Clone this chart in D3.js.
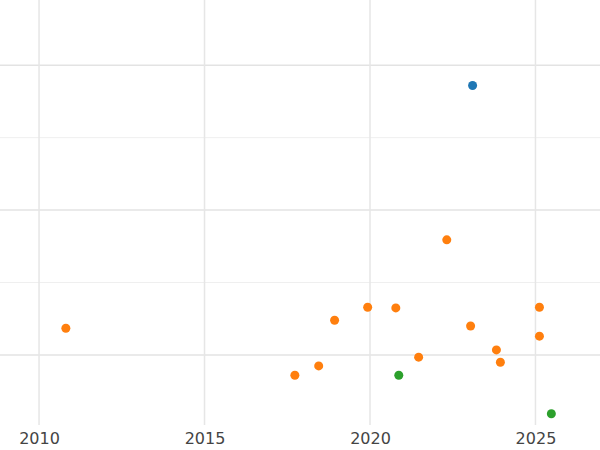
<!DOCTYPE html>
<html><head><meta charset="utf-8">
<script src="https://cdn.jsdelivr.net/npm/d3@7"></script>
<style>body{margin:0;background:#fff}</style></head>
<body><svg id="c" width="600" height="450"></svg>
<script>
const xTicks = [2010, 2015, 2020, 2025];
const yGrid = [0, 1, 2, 3, 4];
const blueX = [2023.10];
const blueY = [3.72];
const orangeX = [2010.81, 2017.73, 2018.45, 2018.93, 2019.93, 2020.78, 2021.47, 2022.32, 2023.04, 2023.82, 2023.94, 2025.12, 2025.12];
const orangeY = [0.37, -0.28, -0.15, 0.48, 0.66, 0.65, -0.03, 1.59, 0.40, 0.07, -0.10, 0.66, 0.26];
const greenX = [2020.87, 2025.48];
const greenY = [-0.28, -0.81];

const svg = d3.select("#c");
const x = d3.scaleLinear().domain([2008.82, 2026.95]).range([0, 600]);
const y = d3.scaleLinear().domain([-0.966, 4.9]).range([425, 0]);

svg.append("g").selectAll("line").data(yGrid).join("line")
  .attr("x1", 0).attr("x2", 600).attr("y1", d => y(d)).attr("y2", d => y(d))
  .attr("stroke", d => d % 2 === 0 ? "#e3e3e3" : "#efefef").attr("stroke-width", d => d % 2 === 0 ? 1.5 : 1);
svg.append("g").selectAll("line").data(xTicks).join("line")
  .attr("x1", d => x(d)).attr("x2", d => x(d)).attr("y1", 0).attr("y2", 425)
  .attr("stroke", "#e6e6e6").attr("stroke-width", 1.5);

const ax = svg.append("g").attr("transform", "translate(0,425)")
  .call(d3.axisBottom(x).tickValues(xTicks).tickFormat(d3.format("d")).tickSize(0).tickPadding(8));
ax.select(".domain").remove();
ax.selectAll("text").attr("font-family", "DejaVu Sans").attr("font-size", 16).attr("fill", "#444");

function pts(xs, ys, c) {
  svg.append("g").selectAll("circle").data(xs).join("circle")
    .attr("cx", d => x(d)).attr("cy", (d, i) => y(ys[i])).attr("r", 4.5).attr("fill", c);
}
pts(orangeX, orangeY, "#ff7f0e");
pts(greenX, greenY, "#2ca02c");
pts(blueX, blueY, "#1f77b4");
</script></body></html>
